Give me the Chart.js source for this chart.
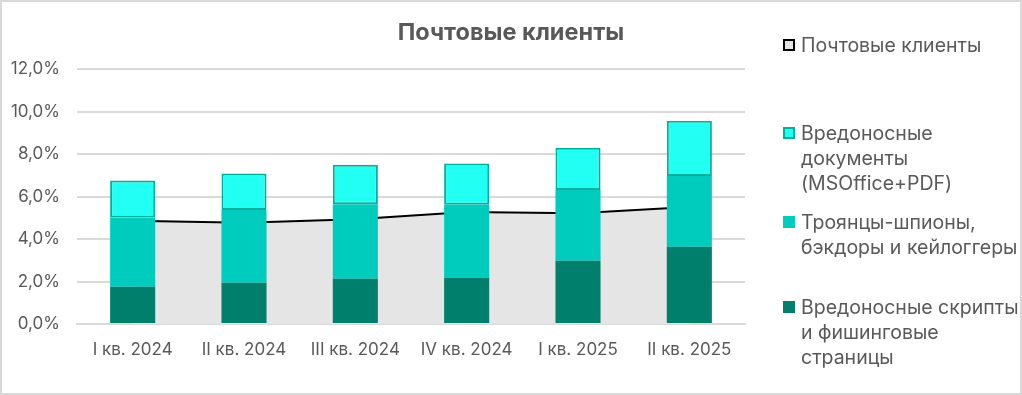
<!DOCTYPE html>
<html>
<head>
<meta charset="utf-8">
<script src="https://cdn.jsdelivr.net/npm/chart.js@4"></script>
<style>
	body { margin: 0; background: #fff; }
	#wrap { position: relative; width: 1022px; height: 395px; font-family: Inter, "Noto Sans", sans-serif; color: #595959; }
	#frame { position: absolute; left: 0; top: 0; width: 1022px; height: 395px; box-sizing: border-box; border: 2px solid #d9d9d9; pointer-events: none; }
	#title { position: absolute; left: 0; width: 1022px; top: 17px; text-align: center; font-weight: 700; font-size: 23.5px; }
	#legend { position: absolute; left: 783px; top: 0; width: 240px; font-size: 19.5px; }
	.item { position: absolute; left: 0; line-height: 25px; }
	.box { position: absolute; left: 0; top: 6px; width: 12px; height: 12px; box-sizing: border-box; }
	.txt { position: absolute; left: 18px; top: 0; white-space: nowrap; }
</style>
</head>
<body>
<div id="wrap">
	<canvas id="mailChart" width="1022" height="395"></canvas>
	<div id="title">Почтовые клиенты</div>
	<div id="legend"></div>
	<div id="frame"></div>
</div>
<script>
var categories = ["I кв. 2024", "II кв. 2024", "III кв. 2024", "IV кв. 2024", "I кв. 2025", "II кв. 2025"];
var mailClients = [4.86, 4.76, 4.93, 5.27, 5.21, 5.51];
var scripts = [1.75, 1.94, 2.13, 2.18, 2.98, 3.63];
var trojans = [3.26, 3.43, 3.51, 3.43, 3.33, 3.34];
var documents = [1.74, 1.71, 1.85, 1.94, 1.98, 2.60];
var yTickLabels = ["0,0%", "2,0%", "4,0%", "6,0%", "8,0%", "10,0%", "12,0%"];

var legendItems = [
	{ lines: ["Почтовые клиенты"], fill: "#e5e5e5", border: "#000", top: 33 },
	{ lines: ["Вредоносные", "документы", "(MSOffice+PDF)"], fill: "#22fff3", border: "#00b09a", top: 121 },
	{ lines: ["Троянцы-шпионы,", "бэкдоры и кейлоггеры"], fill: "#00ccbe", border: "#00ccbe", top: 210 },
	{ lines: ["Вредоносные скрипты", "и фишинговые", "страницы"], fill: "#00806c", border: "#00806c", top: 295 }
];

function buildLegend () {
	var el = document.getElementById("legend");
	legendItems.forEach(function (it) {
		var d = document.createElement("div");
		d.className = "item";
		d.style.top = it.top + "px";
		d.innerHTML = '<div class="box" style="background:' + it.fill + ';border:2px solid ' + it.border + '"></div>' +
			'<div class="txt">' + it.lines.join("<br>") + '</div>';
		el.appendChild(d);
	});
}

function loadMailChart () {
	var tickFont = { family: "Inter, 'Noto Sans', sans-serif", size: 17 };
	var ctx = document.getElementById("mailChart");
	new Chart(ctx, {
		type: 'bar',
		data: {
			labels: categories,
			datasets: [{
				type: 'line',
				label: "Почтовые клиенты",
				data: mailClients,
				stack: 'area',
				order: 2,
				fill: 'origin',
				backgroundColor: "#e5e5e5",
				borderColor: "#000",
				borderWidth: 2,
				pointRadius: 0,
				tension: 0
			}, {
				label: "Вредоносные скрипты и фишинговые страницы",
				data: scripts,
				stack: 'bars',
				order: 1,
				backgroundColor: "#00806c",
				borderWidth: 0
			}, {
				label: "Троянцы-шпионы, бэкдоры и кейлоггеры",
				data: trojans,
				stack: 'bars',
				order: 1,
				backgroundColor: "#00ccbe",
				borderWidth: 0
			}, {
				label: "Вредоносные документы (MSOffice+PDF)",
				data: documents,
				stack: 'bars',
				order: 1,
				backgroundColor: "#22fff3",
				borderColor: "#00b09a",
				borderWidth: 2,
				borderSkipped: false
			}]
		},
		options: {
			responsive: false,
			animation: false,
			categoryPercentage: 1,
			barPercentage: 0.405,
			layout: { padding: { left: 8, top: 69, right: 277, bottom: 31 } },
			plugins: {
				legend: { display: false },
				title: { display: false },
				tooltip: { enabled: false }
			},
			scales: {
				x: {
					stacked: true,
					grid: { display: false, drawTicks: false },
					border: { color: "#d9d9d9", width: 2 },
					ticks: { color: "#595959", font: tickFont, padding: 16, maxRotation: 0 },
					afterFit: function (s) { s.height = 40; }
				},
				y: {
					stacked: true,
					min: 0,
					max: 12,
					grid: { color: "#d9d9d9", lineWidth: 2, drawTicks: false },
					border: { display: false },
					ticks: {
						stepSize: 2,
						color: "#595959",
						font: tickFont,
						padding: 17,
						callback: function (v, i) { return yTickLabels[i]; }
					},
					afterFit: function (s) { s.width = 69; }
				}
			}
		}
	});
}
window.addEventListener("load", function () { buildLegend(); loadMailChart(); });
</script>
</body>
</html>
